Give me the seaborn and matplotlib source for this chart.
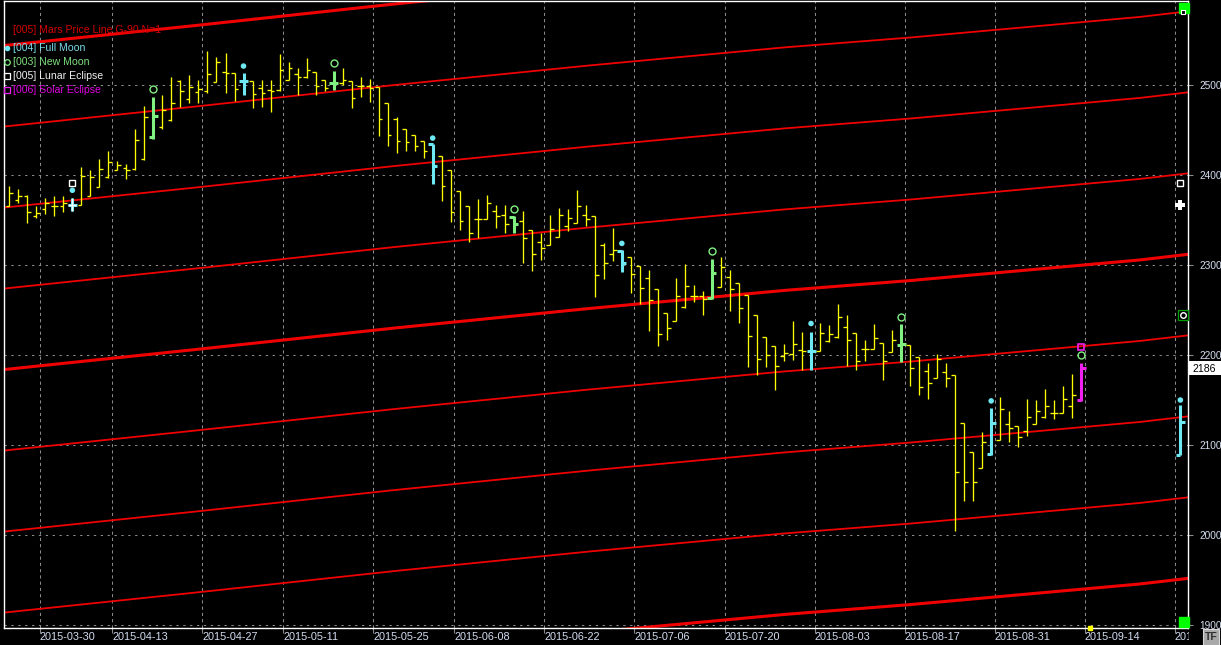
import numpy as np
import pandas as pd
import matplotlib
matplotlib.use("Agg")
import matplotlib.pyplot as plt
import matplotlib.transforms as mtransforms
from matplotlib.patches import Rectangle
import seaborn as sns

# ---------------- data ----------------
start_date = "2015-03-25"
end_date = "2015-09-29"
holidays = ["2015-04-03", "2015-04-06", "2015-05-01", "2015-05-25"]
tick_dates = ["2015-03-30", "2015-04-13", "2015-04-27", "2015-05-11", "2015-05-25",
              "2015-06-08", "2015-06-22", "2015-07-06", "2015-07-20", "2015-08-03",
              "2015-08-17", "2015-08-31", "2015-09-14", "2015-09-28"]

opens = [2366, 2372, 2377, 2354, 2362, 2366, 2366, 2367, 2367, 2377,
         2387, 2398, 2406, 2408, 2407, 2418, 2442, 2453, 2461, 2504,
         2484, 2492, 2493, 2503, 2514, 2513, 2504, 2504, 2497, 2494,
         2494, 2506, 2512, 2509, 2514, 2506, 2502, 2502, 2504, 2499,
         2499, 2498, 2480, 2462, 2451, 2444, 2438, 2434, 2421, 2406,
         2382, 2366, 2351, 2351, 2360, 2356, 2353, 2349, 2339, 2325,
         2322, 2331, 2343, 2347, 2356, 2354, 2322, 2312, 2316, 2309,
         2299, 2286, 2273, 2247, 2238, 2253, 2265, 2265, 2263, 2276,
         2287, 2280, 2267, 2244, 2220, 2210, 2199, 2201, 2206, 2205,
         2205, 2216, 2220, 2231, 2224, 2207, 2207, 2213, 2203, 2211,
         2211, 2198, 2182, 2175, 2181, 2178, 2124, 2092, 2075, 2090,
         2106, 2123, 2121, 2116, 2123, 2131, 2136, 2136, 2143, 2150]
highs = [2388, 2384, 2378, 2365, 2374, 2377, 2377, 2374, 2409, 2406,
         2418, 2427, 2415, 2412, 2451, 2477, 2487, 2489, 2509, 2505,
         2511, 2506, 2538, 2531, 2535, 2513, 2513, 2504, 2506, 2506,
         2534, 2525, 2519, 2530, 2514, 2506, 2516, 2519, 2504, 2509,
         2507, 2498, 2480, 2464, 2451, 2444, 2438, 2434, 2421, 2406,
         2382, 2366, 2373, 2378, 2367, 2367, 2354, 2360, 2339, 2335,
         2356, 2363, 2362, 2383, 2367, 2354, 2324, 2341, 2317, 2309,
         2299, 2294, 2273, 2247, 2285, 2301, 2278, 2271, 2307, 2309,
         2294, 2280, 2267, 2244, 2220, 2210, 2212, 2238, 2226, 2226,
         2236, 2233, 2257, 2244, 2224, 2217, 2234, 2213, 2228, 2234,
         2211, 2198, 2191, 2201, 2191, 2178, 2124, 2092, 2114, 2141,
         2153, 2138, 2121, 2151, 2150, 2162, 2150, 2166, 2179, 2191]
lows = [2365, 2369, 2347, 2352, 2357, 2354, 2359, 2360, 2367, 2377,
        2387, 2397, 2406, 2396, 2406, 2417, 2440, 2451, 2460, 2476,
        2480, 2480, 2491, 2503, 2491, 2482, 2489, 2474, 2475, 2470,
        2493, 2505, 2489, 2508, 2489, 2493, 2494, 2500, 2474, 2487,
        2481, 2443, 2432, 2424, 2427, 2427, 2419, 2390, 2371, 2348,
        2339, 2326, 2330, 2351, 2341, 2335, 2335, 2302, 2293, 2306,
        2322, 2331, 2338, 2347, 2343, 2264, 2284, 2304, 2292, 2269,
        2257, 2227, 2210, 2217, 2238, 2252, 2259, 2244, 2262, 2276,
        2249, 2236, 2187, 2178, 2187, 2161, 2193, 2194, 2183, 2183,
        2205, 2214, 2219, 2188, 2183, 2193, 2207, 2172, 2203, 2192,
        2166, 2156, 2151, 2175, 2164, 2004, 2038, 2038, 2075, 2089,
        2106, 2103, 2098, 2110, 2123, 2130, 2129, 2136, 2130, 2149]
closes = [2380, 2377, 2359, 2358, 2369, 2366, 2369, 2367, 2399, 2398,
          2407, 2414, 2411, 2406, 2439, 2464, 2465, 2472, 2480, 2493,
          2498, 2495, 2512, 2525, 2513, 2496, 2504, 2490, 2491, 2493,
          2517, 2519, 2509, 2517, 2499, 2497, 2502, 2505, 2485, 2499,
          2497, 2462, 2444, 2438, 2437, 2432, 2427, 2410, 2388, 2359,
          2349, 2336, 2351, 2369, 2354, 2345, 2346, 2330, 2312, 2319,
          2340, 2355, 2352, 2366, 2351, 2289, 2302, 2317, 2302, 2290,
          2274, 2261, 2223, 2230, 2266, 2277, 2266, 2262, 2291, 2298,
          2273, 2252, 2221, 2196, 2200, 2188, 2202, 2212, 2204, 2205,
          2225, 2223, 2242, 2217, 2193, 2207, 2219, 2193, 2217, 2212,
          2186, 2164, 2169, 2196, 2174, 2070, 2059, 2059, 2103, 2124,
          2140, 2119, 2109, 2131, 2138, 2143, 2136, 2151, 2156, 2186]

full_moon_idx = [7, 26, 47, 68, 89, 109]
full_moon_mark = [2383, 2521, 2441, 2324, 2235, 2149]
new_moon_idx = [16, 36, 56, 78, 99, 119]
new_moon_mark = [2495, 2524, 2362, 2315, 2242, 2200]
lunar_idx = [7]
lunar_mark = [2391]
solar_idx = [119]
solar_mark = [2209]

# projected full moon / lunar eclipse bar (2015-09-29)
proj_idx = [130]
proj_open, proj_high, proj_low, proj_close = [2089], [2144], [2089], [2126]
proj_moon_mark = [2150]
proj_lunar_mark = [2391]
proj_cross_mark = [2367]
current_idx = [120]
last_price = 2186

# Mars price line (G-90, N=1): base harmonic read at a few bars
mars_knot_idx = [-0.6, 20.6, 42.8, 64.2, 86.1, 100.0, 125.5, 131.0]
mars_knot_price = [2453.8, 2476.0, 2500.0, 2521.5, 2541.8, 2552.7, 2575.6, 2582.0]
harmonic_offsets = [90, 0, -90, -180, -270, -360, -450, -540, -630]
thick_offsets = [90, -270, -630]

y_ticks = [1900, 2000, 2100, 2200, 2300, 2400, 2500]
legend_labels = ["[005] Mars Price Line G-90 N=1", "[004] Full Moon", "[003] New Moon",
                 "[005] Lunar Eclipse", "[006] Solar Eclipse"]

# ---------------- style ----------------
sns.set_theme(style="dark")
plt.rcParams['font.family'] = ['Liberation Sans', 'DejaVu Sans']

RED = "#f00000"
YEL = "#ffff00"
CYAN = "#6ee8f2"
GREEN = "#80f080"
MAG = "#f020f0"
LBL = "#d4def2"
GRID = "#8a8a8a"

W, H = 1221, 645
fig = plt.figure(figsize=(W / 100, H / 100), dpi=100, facecolor="black")
ax = fig.add_axes([4 / W, 1 - 628 / H, 1184 / W, 627 / H])
ax.set_facecolor("black")
ax.set_xlim(-0.59, 130.85)
ax.set_ylim(1896.7, 2593.3)
px = mtransforms.Affine2D().scale(1, -1).translate(0, H)

dates = pd.bdate_range(start_date, end_date, freq="C", holidays=holidays)
tick_pos = np.array([dates.searchsorted(pd.Timestamp(d)) for d in tick_dates]) + 0.4

# grid
for tp in tick_pos:
    ax.axvline(tp, color=GRID, lw=0.75, ls=(0, (3, 3)), zorder=0)
for yt in y_ticks:
    ax.axhline(yt, color=GRID, lw=0.75, ls=(0, (2.2, 4.4)), zorder=0)

# Mars lines
for off in harmonic_offsets:
    lw = 2.2 if off in thick_offsets else 1.3
    sns.lineplot(x=mars_knot_idx, y=np.array(mars_knot_price) + off, color=RED,
                 linewidth=lw, ax=ax, zorder=1)

# OHLC bars
o = np.array(opens); h = np.array(highs); l = np.array(lows); c = np.array(closes)
xs = np.arange(len(opens))
special = set(full_moon_idx) | set(new_moon_idx) | set(solar_idx)


def draw_ohlc(idx, color, lw, tick, z, oo, hh, ll, cc):
    idx = np.asarray(idx, dtype=float)
    ax.vlines(idx, ll, hh, colors=color, lw=lw, zorder=z)
    ax.hlines(oo, idx - tick, idx, colors=color, lw=lw, zorder=z)
    ax.hlines(cc, idx, idx + tick, colors=color, lw=lw, zorder=z)


norm = np.array([i for i in xs if i not in special])
draw_ohlc(norm, YEL, 0.95, 0.42, 3, o[norm], h[norm], l[norm], c[norm])
fm = np.array(full_moon_idx)
draw_ohlc(fm, CYAN, 2.2, 0.5, 4, o[fm], h[fm], l[fm], c[fm])
nm = np.array([i for i in new_moon_idx if i not in solar_idx])
draw_ohlc(nm, GREEN, 2.2, 0.5, 4, o[nm], h[nm], l[nm], c[nm])
sm = np.array(solar_idx)
draw_ohlc(sm, MAG, 2.2, 0.5, 4, o[sm], h[sm], l[sm], c[sm])
le = np.array(lunar_idx)
draw_ohlc(le, "white", 1.0, 0.45, 5, o[le], h[le], l[le], c[le])
draw_ohlc(proj_idx, CYAN, 2.2, 0.5, 4, proj_open, proj_high, proj_low, proj_close)

# moon markers
sns.scatterplot(x=full_moon_idx + proj_idx, y=full_moon_mark + proj_moon_mark, color=CYAN,
                s=16, edgecolor="none", ax=ax, legend=False, zorder=6)
ax.plot(new_moon_idx, new_moon_mark, "o", mfc="none", mec=GREEN, ms=5, mew=1.0, zorder=6)
ax.plot(lunar_idx + proj_idx, lunar_mark + proj_lunar_mark, "s", mfc="none", mec="white",
        ms=4.6, mew=1.0, zorder=6)
ax.plot(solar_idx, solar_mark, "s", mfc="none", mec=MAG, ms=4.6, mew=1.2, zorder=6)
ax.plot(proj_idx, proj_cross_mark, "P", color="white", ms=7, mew=0, zorder=6)

# current bar marker on the time axis
cur = mtransforms.blended_transform_factory(ax.transData, ax.transAxes)
ax.plot(current_idx, [0.0], "s", color=YEL, ms=3.5, transform=cur, clip_on=False, zorder=8)

# axes styling
for s in ax.spines.values():
    s.set_color("white")
    s.set_linewidth(1.0)
ax.set_xticks(tick_pos)
ax.set_xticklabels([])
ax.yaxis.tick_right()
ax.set_yticks(y_ticks)
ax.set_yticklabels([str(v) for v in y_ticks], color=LBL, fontsize=7.3)
ax.tick_params(axis="y", length=3.5, width=0.8, color=GRID, pad=4.5, right=True, left=False)
ax.tick_params(axis="x", length=3.5, width=0.8, color=GRID, bottom=True)
ax.grid(False)
ax.set_xlabel("")
ax.set_ylabel("")

# date labels (last one clipped at the plot border)
xlab_tr = mtransforms.blended_transform_factory(ax.transData, px)
clipbox = mtransforms.Bbox([[0, 0], [1189, H]])
for tp, d in zip(tick_pos, tick_dates):
    t = fig.text(tp, 637, d, transform=xlab_tr, color=LBL, fontsize=7.8,
                 ha="left", va="center")
    t.set_clip_box(clipbox)
    t.set_clip_on(True)

# last price box
lp_tr = mtransforms.blended_transform_factory(ax.transAxes, ax.transData)
ax.add_patch(Rectangle((1.001, last_price - 8.6), 0.03, 15.6, transform=lp_tr,
                       facecolor="white", edgecolor="none", clip_on=False, zorder=9))
ax.text(1.004, last_price - 1.2, str(last_price), transform=lp_tr, color="black",
        fontsize=7.6, ha="left", va="center", clip_on=False, zorder=10)

# legend (text list top-left)
leg_colors = ["#d40000", "#7adcec", "#7ee07e", "#f0f0f0", "#e000e0"]
leg_y = [30, 48, 62, 76, 90]
for lab, col, yy in zip(legend_labels, leg_colors, leg_y):
    fig.text(13, yy, lab, transform=px, color=col, fontsize=7.6, ha="left", va="center")
fig.lines.append(plt.Line2D([6.7], [48], transform=px, marker="o", color=CYAN, ms=3.0, ls=""))
fig.lines.append(plt.Line2D([6.7], [62], transform=px, marker="o", mfc="none", mec=GREEN,
                            ms=4, mew=0.9, ls=""))
fig.lines.append(plt.Line2D([6.7], [76], transform=px, marker="s", mfc="none", mec="white",
                            ms=3.8, mew=0.9, ls=""))
fig.lines.append(plt.Line2D([6.7], [90], transform=px, marker="s", mfc="none", mec=MAG,
                            ms=3.8, mew=0.9, ls=""))

# right-edge scroll widgets
fig.lines.append(plt.Line2D([1183.5], [7.5], transform=px, marker="s", color="#00ff00",
                            ms=6.5, ls=""))
fig.lines.append(plt.Line2D([1183], [12], transform=px, marker="s", mfc="black", mec="white",
                            ms=3.2, mew=0.8, ls=""))
fig.lines.append(plt.Line2D([1183.5], [622], transform=px, marker="s", color="#00ff00",
                            ms=6.5, ls=""))
fig.lines.append(plt.Line2D([1183], [315], transform=px, marker="s", mfc="black", mec="#00a000",
                            ms=7, mew=0.9, ls=""))
fig.lines.append(plt.Line2D([1183], [315], transform=px, marker="o", mfc="none", mec="white",
                            ms=4, mew=1.0, ls=""))

# TF button
fig.patches.append(Rectangle((1203, 0), 16, 16, transform=mtransforms.IdentityTransform(),
                             facecolor="#a8a8a8", edgecolor="#d8d8d8", lw=0.8))
fig.text(1211, 637, "TF", transform=px, color="#303030", fontsize=7.5, fontweight="bold",
         ha="center", va="center")

fig.savefig("out.png", dpi=100, facecolor="black")
